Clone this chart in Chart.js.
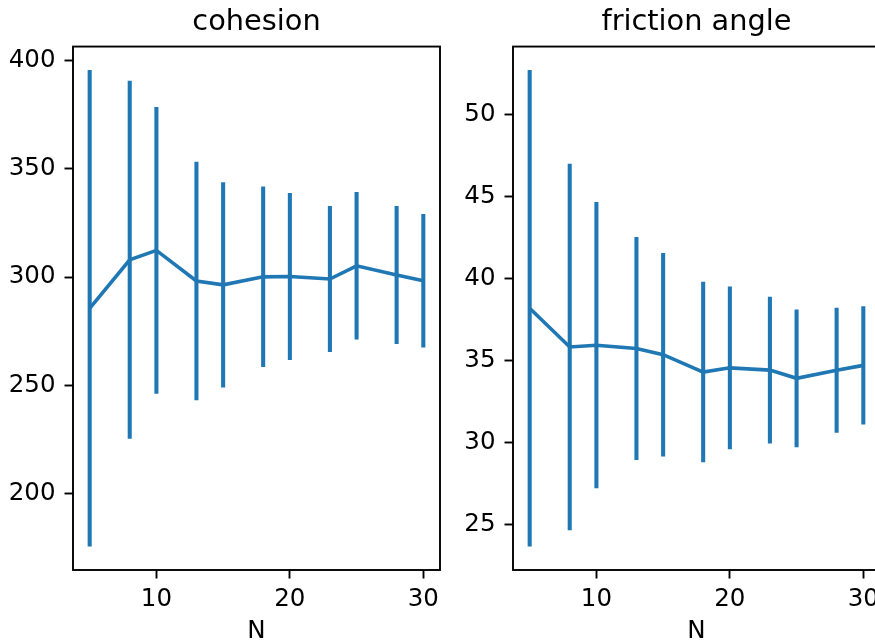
<!DOCTYPE html>
<html>
<head>
<meta charset="utf-8">
<title>cohesion / friction angle vs N</title>
<script src="https://cdn.jsdelivr.net/npm/chart.js@4.4.1/dist/chart.umd.min.js"></script>
<style>
  html, body { margin: 0; padding: 0; background: #fff; overflow: hidden; }
  body { width: 875px; height: 644px; position: relative; }
  canvas { position: absolute; top: 0; }
  #cohesion-chart { left: 0; }
  #friction-chart { left: 440px; }
</style>
</head>
<body>
<canvas id="cohesion-chart" width="460" height="644"></canvas>
<canvas id="friction-chart" width="460" height="644"></canvas>
<script>
// Data (mean and +/- spread per sample size N)
const sampleSizes = [5, 8, 10, 13, 15, 18, 20, 23, 25, 28, 30]

const cohesionMean = [285.6, 308.0, 312.3, 298.2, 296.4, 300.1, 300.3, 299.1, 305.2, 301.0, 298.3]
const cohesionErr = [109.8, 82.5, 66.0, 54.9, 47.2, 41.5, 38.4, 33.5, 33.9, 31.7, 30.7]

const frictionMean = [38.2, 35.84, 35.95, 35.75, 35.37, 34.31, 34.57, 34.43, 33.93, 34.42, 34.72]
const frictionErr = [14.5, 11.15, 8.7, 6.78, 6.18, 5.48, 4.94, 4.45, 4.18, 3.79, 3.58]

const nTicks = [10, 20, 30]
const cohesionTicks = [200, 250, 300, 350, 400]
const frictionTicks = [25, 30, 35, 40, 45, 50]

const BLUE = '#1f77b4'
const FONT = 'DejaVu Sans'

// matplotlib style limits: data range plus 5% on each side
function paddedRange(lo, hi) {
  const m = (hi - lo) * 0.05
  return [lo - m, hi + m]
}

// Draws the full box (all four spines) like matplotlib axes
const axesFrame = {
  id: 'axesFrame',
  afterDraw(chart) {
    const { ctx, chartArea: a } = chart
    ctx.save()
    ctx.strokeStyle = '#000'
    ctx.lineWidth = 1.9
    ctx.strokeRect(a.left, a.top, a.right - a.left, a.bottom - a.top)
    ctx.restore()
  }
}

function buildConfig(title, means, errs, yTicks) {
  const lows = means.map((m, i) => m - errs[i])
  const highs = means.map((m, i) => m + errs[i])
  const [xMin, xMax] = paddedRange(Math.min(...sampleSizes), Math.max(...sampleSizes))
  const [yMin, yMax] = paddedRange(Math.min(...lows), Math.max(...highs))

  const tickStyle = {
    offset: false,
    drawOnChartArea: false,
    drawTicks: true,
    tickLength: 8.5,
    tickWidth: 1.9,
    tickColor: '#000'
  }

  return {
    type: 'line',
    data: {
      datasets: [
        {
          type: 'bar',
          data: sampleSizes.map((n, i) => ({ x: n, y: [lows[i], highs[i]] })),
          backgroundColor: BLUE,
          borderWidth: 0,
          barThickness: 3.4,
          grouped: false
        },
        {
          type: 'line',
          data: sampleSizes.map((n, i) => ({ x: n, y: means[i] })),
          borderColor: BLUE,
          borderWidth: 3.6,
          pointRadius: 0,
          tension: 0,
          fill: false
        }
      ]
    },
    options: {
      responsive: false,
      animation: false,
      devicePixelRatio: 1,
      layout: { padding: { left: 0, right: 20, top: 0, bottom: 0 } },
      plugins: {
        legend: { display: false },
        tooltip: { enabled: false },
        title: {
          display: true,
          text: title,
          fullSize: false,
          color: '#000',
          font: { family: FONT, size: 28.8, weight: 'normal' },
          padding: { top: 5, bottom: 7 }
        }
      },
      scales: {
        x: {
          type: 'linear',
          min: xMin,
          max: xMax,
          offset: false,
          grid: tickStyle,
          border: { display: false },
          afterBuildTicks: scale => { scale.ticks = nTicks.map(v => ({ value: v })) },
          afterFit: scale => { scale.height = 74 },
          ticks: {
            color: '#000',
            padding: 6,
            maxRotation: 0,
            font: { family: FONT, size: 24.5 }
          },
          title: {
            display: true,
            text: 'N',
            color: '#000',
            padding: { top: 0, bottom: -2 },
            font: { family: FONT, size: 24.5 }
          }
        },
        y: {
          type: 'linear',
          min: yMin,
          max: yMax,
          grid: tickStyle,
          border: { display: false },
          afterBuildTicks: scale => { scale.ticks = yTicks.map(v => ({ value: v })) },
          afterFit: scale => { scale.width = 73 },
          ticks: {
            color: '#000',
            padding: 9,
            font: { family: FONT, size: 24.5 }
          }
        }
      }
    },
    plugins: [axesFrame]
  }
}

new Chart(document.getElementById('cohesion-chart'),
  buildConfig('cohesion', cohesionMean, cohesionErr, cohesionTicks))
new Chart(document.getElementById('friction-chart'),
  buildConfig('friction angle', frictionMean, frictionErr, frictionTicks))
</script>
</body>
</html>
